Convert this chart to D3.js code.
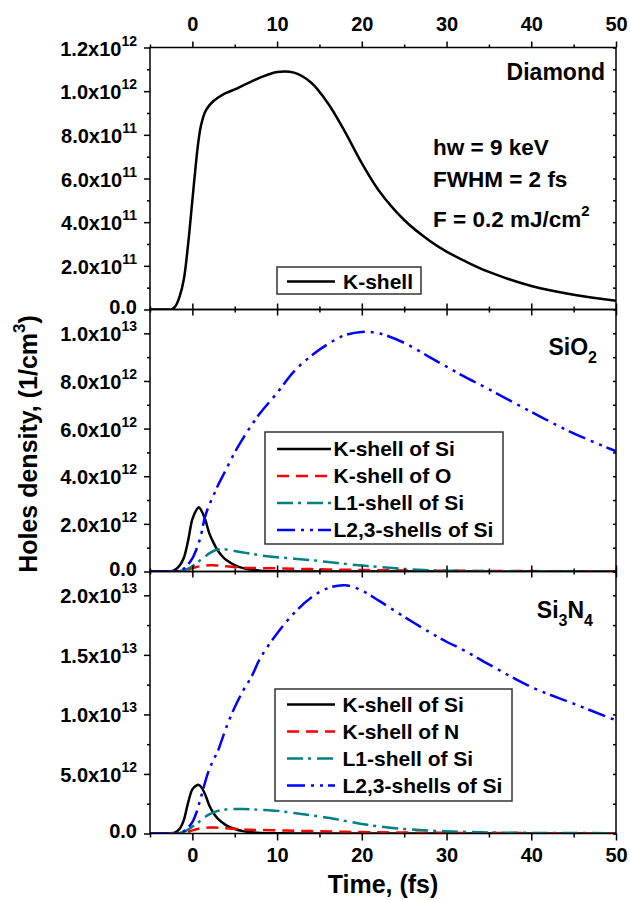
<!DOCTYPE html>
<html>
<head>
<meta charset="utf-8">
<script src="https://cdn.jsdelivr.net/npm/d3@7"></script>
<style>
  body { margin: 0; background: #fff; }
  svg text { font-family: 'Liberation Sans', Arial, sans-serif; font-weight: bold; fill: #000; }
</style>
</head>
<body>
<div id="chart"></div>
<script>
// time grid, fs
const time = [-5, -3, -2.5, -2, -1.5, -1, -0.5, 0, 0.5, 0.75, 1, 1.5, 2, 2.5, 3, 3.5, 4,
  5, 6, 7, 8, 10, 12, 14, 16, 18, 20, 22, 25, 28, 30, 32, 35, 40, 45, 50];

// all densities in units of 1e12 1/cm^3
const diamondK = [0, 0, 0, 0.015, 0.06, 0.14, 0.30, 0.50, 0.70, 0.78, 0.84, 0.905, 0.935, 0.955, 0.97, 0.982, 0.992,
  1.008, 1.027, 1.045, 1.062, 1.088, 1.085, 1.04, 0.945, 0.815, 0.67, 0.545, 0.41, 0.315, 0.265, 0.225, 0.172, 0.108, 0.068, 0.04];

const sio2KSi = [0, 0, 0.01, 0.08, 0.25, 0.58, 1.3, 2.2, 2.6, 2.7, 2.6, 2.2, 1.6, 1.2, 0.88, 0.65, 0.48,
  0.27, 0.14, 0.07, 0.035, 0.01, 0, 0, 0, 0, 0, 0, 0, 0, 0, 0, 0, 0, 0, 0];
const sio2KO = [0, 0, 0, 0.005, 0.015, 0.04, 0.08, 0.14, 0.19, 0.21, 0.23, 0.25, 0.26, 0.26, 0.25, 0.24, 0.22,
  0.19, 0.16, 0.145, 0.14, 0.13, 0.115, 0.1, 0.085, 0.075, 0.065, 0.055, 0.045, 0.035, 0.03, 0.027, 0.022, 0.016, 0.012, 0.01];
const sio2L1 = [0, 0, 0, 0.005, 0.02, 0.05, 0.12, 0.22, 0.35, 0.42, 0.5, 0.63, 0.76, 0.86, 0.92, 0.94, 0.92,
  0.86, 0.8, 0.74, 0.68, 0.6, 0.54, 0.48, 0.4, 0.32, 0.25, 0.19, 0.11, 0.055, 0.035, 0.025, 0.015, 0.01, 0.005, 0.005];
const sio2L23 = [0, 0, 0, 0.01, 0.04, 0.12, 0.3, 0.55, 0.95, 1.2, 1.5, 2.3, 2.8, 3.2, 3.6, 3.95, 4.3,
  5.0, 5.6, 6.15, 6.65, 7.5, 8.4, 9.05, 9.55, 9.92, 10.06, 10.0, 9.6, 9.0, 8.6, 8.2, 7.65, 6.7, 5.8, 5.05];

const si3n4KSi = [0, 0, 0.01, 0.1, 0.4, 1.15, 2.6, 3.7, 4.05, 4.08, 3.95, 3.3, 2.35, 1.7, 1.25, 0.95, 0.68,
  0.38, 0.2, 0.1, 0.05, 0.015, 0, 0, 0, 0, 0, 0, 0, 0, 0, 0, 0, 0, 0, 0];
const si3n4KN = [0, 0, 0, 0.01, 0.03, 0.07, 0.15, 0.26, 0.36, 0.4, 0.44, 0.48, 0.5, 0.5, 0.49, 0.47, 0.44,
  0.39, 0.34, 0.31, 0.29, 0.26, 0.23, 0.2, 0.17, 0.14, 0.12, 0.1, 0.08, 0.065, 0.055, 0.048, 0.04, 0.03, 0.022, 0.018];
const si3n4L1 = [0, 0, 0, 0.01, 0.05, 0.14, 0.32, 0.58, 0.8, 0.95, 1.1, 1.38, 1.6, 1.78, 1.9, 1.97, 2.02,
  2.05, 2.05, 2.03, 1.99, 1.9, 1.72, 1.53, 1.33, 1.06, 0.8, 0.6, 0.38, 0.24, 0.19, 0.14, 0.085, 0.05, 0.035, 0.03];
const si3n4L23 = [0, 0, 0, 0.02, 0.08, 0.2, 0.5, 0.95, 1.8, 2.4, 3.0, 4.3, 5.4, 6.2, 6.9, 7.9, 8.9,
  10.6, 12.0, 13.2, 14.7, 16.8, 18.5, 19.8, 20.6, 20.85, 20.4, 19.55, 18.2, 16.9, 16.1, 15.4, 14.2, 12.3, 10.9, 9.5];

// ticks
const xMajor = [0, 10, 20, 30, 40, 50];
const xMinor = [-5, 5, 15, 25, 35, 45];
const topMajor = [0, 0.2, 0.4, 0.6, 0.8, 1.0, 1.2];
const topMinor = [0.1, 0.3, 0.5, 0.7, 0.9, 1.1];
const midMajor = [0, 2, 4, 6, 8, 10];
const midMinor = [1, 3, 5, 7, 9];
const botMajor = [0, 5, 10, 15, 20];
const botMinor = [2.5, 7.5, 12.5, 17.5];

const styles = {
  k: { color: '#000000', dash: null },
  o: { color: '#ff0000', dash: '12,7' },
  l1: { color: '#008080', dash: '16,5,3,6' },
  l23: { color: '#0000ff', dash: '18,6,3,6,3,5' }
};

const panels = [
  { ymax: 1.2, major: topMajor, minor: topMinor,
    series: [{ label: 'K-shell', values: diamondK, s: styles.k }],
    legend: { x0: 277, y0: 267, x1: 421, y1: 294, l0: 287, l1: 335, tx: 343, base: 288.5 } },
  { ymax: 11, major: midMajor, minor: midMinor,
    series: [
      { label: 'K-shell of Si', values: sio2KSi, s: styles.k },
      { label: 'K-shell of O', values: sio2KO, s: styles.o },
      { label: 'L1-shell of Si', values: sio2L1, s: styles.l1 },
      { label: 'L2,3-shells of Si', values: sio2L23, s: styles.l23 }],
    legend: { x0: 265, y0: 432, x1: 503, y1: 544, l0: 277, l1: 331, tx: 333.5, base: 456 } },
  { ymax: 22, major: botMajor, minor: botMinor,
    series: [
      { label: 'K-shell of Si', values: si3n4KSi, s: styles.k },
      { label: 'K-shell of N', values: si3n4KN, s: styles.o },
      { label: 'L1-shell of Si', values: si3n4L1, s: styles.l1 },
      { label: 'L2,3-shells of Si', values: si3n4L23, s: styles.l23 }],
    legend: { x0: 275, y0: 689, x1: 512, y1: 801, l0: 287, l1: 335, tx: 342.5, base: 711.5 } }
];

const width = 630, height = 900;
const padL = 150, padR = 616, plotTop = 47.5, panelH = 262;

const svg = d3.select('#chart').append('svg').attr('width', width).attr('height', height);
const x = d3.scaleLinear().domain([-5, 50]).range([padL, padR]);

function sciParts(v) {
  if (v === 0) return null;
  const val = v * 1e12;
  const e = Math.floor(Math.log10(val) + 1e-9);
  return { m: (val / Math.pow(10, e)).toFixed(1) + 'x10', e: String(e) };
}

function styleTicks(sel) {
  sel.select('.domain').remove();
  sel.selectAll('line').attr('stroke', '#000').attr('stroke-width', 1.5);
}

panels.forEach((p, i) => {
  const y0 = plotTop + i * panelH, y1 = y0 + panelH;
  const y = d3.scaleLinear().domain([0, p.ymax]).range([y1, y0]);
  const g = svg.append('g');
  const last = i === panels.length - 1;

  // y axes
  g.append('g').attr('transform', `translate(${padL},0)`)
    .call(d3.axisLeft(y).tickValues(p.major).tickSize(6).tickFormat('')).call(styleTicks);
  g.append('g').attr('transform', `translate(${padL},0)`)
    .call(d3.axisLeft(y).tickValues(p.minor).tickSize(3).tickFormat('')).call(styleTicks);
  g.append('g').attr('transform', `translate(${padR},0)`)
    .call(d3.axisRight(y).tickValues(p.major.concat(p.minor)).tickSize(-3).tickFormat('')).call(styleTicks);

  p.major.forEach(v => {
    const parts = sciParts(v);
    const t = g.append('text').attr('text-anchor', 'end').attr('x', padL - 13)
      .attr('y', y(v) + (parts ? 8 : 4.5)).attr('font-size', 20);
    if (!parts) { t.text('0.0'); return; }
    t.append('tspan').text(parts.m);
    t.append('tspan').attr('font-size', 14).attr('dy', -10).text(parts.e);
  });

  // x axes
  const topAx = g.append('g').attr('transform', `translate(0,${y0})`)
    .call(d3.axisTop(x).tickValues(xMajor).tickSize(6).tickPadding(10.5)
      .tickFormat(i === 0 ? d3.format('d') : ''));
  topAx.call(styleTicks);
  topAx.attr('font-size', 20).attr('font-family', null);
  g.append('g').attr('transform', `translate(0,${y0})`)
    .call(d3.axisTop(x).tickValues(xMinor).tickSize(3).tickFormat('')).call(styleTicks);

  const botAx = g.append('g').attr('transform', `translate(0,${y1})`)
    .call(d3.axisBottom(x).tickValues(xMajor).tickSize(last ? 7 : 6).tickPadding(7.3)
      .tickFormat(last ? d3.format('d') : ''));
  botAx.call(styleTicks);
  botAx.attr('font-size', 20).attr('font-family', null);
  g.append('g').attr('transform', `translate(0,${y1})`)
    .call(d3.axisBottom(x).tickValues(xMinor).tickSize(last ? 4 : 3).tickFormat('')).call(styleTicks);

  // curves
  const clipId = 'clip' + i;
  svg.append('clipPath').attr('id', clipId).append('rect')
    .attr('x', padL).attr('y', y0).attr('width', padR - padL).attr('height', panelH);
  const line = d3.line().x((d, k) => x(time[k])).y(d => y(d)).curve(d3.curveCatmullRom.alpha(0.5));
  const curves = g.append('g').attr('clip-path', `url(#${clipId})`);
  p.series.forEach(s => {
    curves.append('path').datum(s.values).attr('d', line)
      .attr('fill', 'none').attr('stroke', s.s.color).attr('stroke-width', 2.5)
      .attr('stroke-dasharray', s.s.dash);
  });

  // frame
  g.append('rect').attr('x', padL).attr('y', y0).attr('width', padR - padL).attr('height', panelH)
    .attr('fill', 'none').attr('stroke', '#000').attr('stroke-width', 1.5);

  // legend
  const L = p.legend;
  const lg = g.append('g');
  lg.append('rect').attr('x', L.x0).attr('y', L.y0).attr('width', L.x1 - L.x0).attr('height', L.y1 - L.y0)
    .attr('fill', '#fff').attr('stroke', '#333').attr('stroke-width', 1.5);
  p.series.forEach((s, k) => {
    const b = L.base + k * 27;
    lg.append('line').attr('x1', L.l0).attr('x2', L.l1).attr('y1', b - 7).attr('y2', b - 7)
      .attr('stroke', s.s.color).attr('stroke-width', 2.5).attr('stroke-dasharray', s.s.dash);
    lg.append('text').attr('x', L.tx).attr('y', b).attr('font-size', 21).text(s.label);
  });
});

// annotations
svg.append('text').attr('x', 605).attr('y', 80).attr('text-anchor', 'end').attr('font-size', 23).text('Diamond');
svg.append('text').attr('x', 433).attr('y', 155).attr('font-size', 22.5).text('hw = 9 keV');
svg.append('text').attr('x', 433).attr('y', 187).attr('font-size', 22.5).text('FWHM = 2 fs');
const fl = svg.append('text').attr('x', 433).attr('y', 227).attr('font-size', 22.5);
fl.append('tspan').text('F = 0.2 mJ/cm');
fl.append('tspan').attr('font-size', 15).attr('dy', -11).text('2');

const sio = svg.append('text').attr('x', 597).attr('y', 355).attr('text-anchor', 'end').attr('font-size', 23);
sio.append('tspan').text('SiO');
sio.append('tspan').attr('font-size', 16).attr('dy', 8).text('2');

const sin = svg.append('text').attr('x', 593).attr('y', 618).attr('text-anchor', 'end').attr('font-size', 23);
sin.append('tspan').text('Si');
sin.append('tspan').attr('font-size', 16).attr('dy', 8).text('3');
sin.append('tspan').attr('dy', -8).text('N');
sin.append('tspan').attr('font-size', 16).attr('dy', 8).text('4');

// axis titles
const yt = svg.append('text').attr('transform', 'translate(37,444) rotate(-90)')
  .attr('text-anchor', 'middle').attr('font-size', 25);
yt.append('tspan').text('Holes density, (1/cm');
yt.append('tspan').attr('font-size', 17).attr('dy', -12).text('3');
yt.append('tspan').attr('dy', 12).text(')');

svg.append('text').attr('x', (padL + padR) / 2).attr('y', 893).attr('text-anchor', 'middle')
  .attr('font-size', 25).text('Time, (fs)');
</script>
</body>
</html>
